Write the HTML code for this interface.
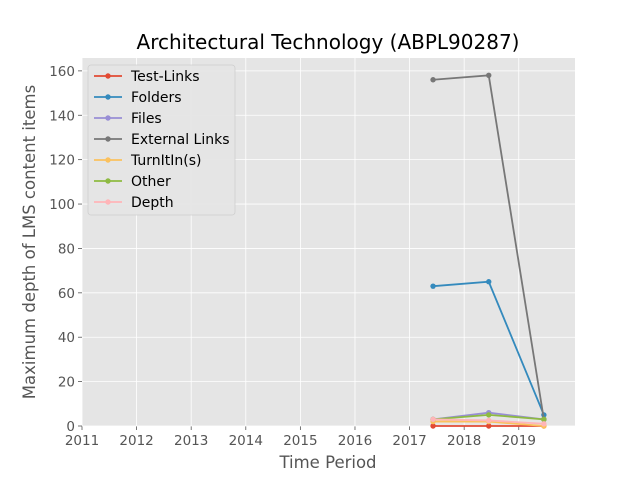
<!DOCTYPE html>
<html><head><meta charset="utf-8"><style>
body{margin:0;background:#fff;font-family:"DejaVu Sans","Liberation Sans",sans-serif;}
</style></head><body>
<svg id="chart" width="640" height="480" font-family="DejaVu Sans, Liberation Sans, sans-serif"></svg>
<script>
const years=[2017.43,2018.45,2019.46];
const seriesNames=["Test-Links","Folders","Files","External Links","TurnItIn(s)","Other","Depth"];
const testLinks=[0,0,0];
const folders=[63,65,5];
const files=[3,6,3];
const externalLinks=[156,158,3];
const turnitin=[2,2,0];
const other=[3,5,3];
const depth=[3,2.5,1];
const xTicks=[2011,2012,2013,2014,2015,2016,2017,2018,2019];
const yTicks=[0,20,40,60,80,100,120,140,160];
const colors=["#E24A33","#348ABD","#988ED5","#777777","#FBC15E","#8EBA42","#FFB5B8"];
const allSeries=[testLinks,folders,files,externalLinks,turnitin,other,depth];
const L=82,R=575,T=58,B=426,x0=2011,x1=2020.03,y0=0,y1=165.8;
const sx=v=>L+(v-x0)/(x1-x0)*(R-L), sy=v=>B-(v-y0)/(y1-y0)*(B-T);
const svg=document.getElementById('chart');
const NS="http://www.w3.org/2000/svg";
function mk(t,a,p){const e=document.createElementNS(NS,t);for(const k in a)e.setAttribute(k,a[k]);(p||svg).appendChild(e);return e;}
const bg=mk('rect',{x:L,y:T,width:R-L,height:B-T,fill:'#E5E5E5'});


xTicks.forEach(t=>{
 mk('line',{x1:sx(t),x2:sx(t),y1:T,y2:B,stroke:'#fff','stroke-width':0.8});
 mk('line',{x1:sx(t),x2:sx(t),y1:B,y2:B+4,stroke:'#555','stroke-width':0.8});
 const tx=mk('text',{x:sx(t),y:B+19,'text-anchor':'middle','font-size':13.5,fill:'#555'});tx.textContent=t;
 
 
});
yTicks.forEach(t=>{
 mk('line',{x1:L,x2:R,y1:sy(t),y2:sy(t),stroke:'#fff','stroke-width':0.8});
 mk('line',{x1:L-4,x2:L,y1:sy(t),y2:sy(t),stroke:'#555','stroke-width':0.8});
 const tx=mk('text',{x:L-7,y:sy(t)+5,'text-anchor':'end','font-size':13.5,fill:'#555'});tx.textContent=t;
 
 
});
allSeries.forEach((s,i)=>{
 const g=mk('g',{});
 
 
 mk('polyline',{points:s.map((v,j)=>sx(years[j])+','+sy(v)).join(' '),fill:'none',stroke:colors[i],'stroke-width':1.8},g);
 s.forEach((v,j)=>mk('circle',{cx:sx(years[j]),cy:sy(v),r:2.7,fill:colors[i]},g));
});
const title=mk('text',{x:328,y:49,'text-anchor':'middle','font-size':20,fill:'#000'});title.textContent="Architectural Technology (ABPL90287)";


const xl=mk('text',{x:328,y:468,'text-anchor':'middle','font-size':16.5,fill:'#555'});xl.textContent="Time Period";


const yl=mk('text',{x:35,y:242,'text-anchor':'middle','font-size':16.5,fill:'#555',transform:'rotate(-90 35 242)'});yl.textContent="Maximum depth of LMS content items";


const lg=mk('g',{});


mk('rect',{x:88,y:65,width:147,height:150,rx:3,fill:'#E5E5E5',stroke:'#ccc','stroke-width':0.8,opacity:0.9},lg);
seriesNames.forEach((n,i)=>{
 const y=76+i*21;
 const e=mk('g',{},lg);
 
 
 mk('line',{x1:94,x2:122,y1:y,y2:y,stroke:colors[i],'stroke-width':1.8},e);
 mk('circle',{cx:108,cy:y,r:2.7,fill:colors[i]},e);
 const t=mk('text',{x:131,y:y+5,'font-size':14,fill:'#000'},e);t.textContent=n;
});
</script>
</body></html>
